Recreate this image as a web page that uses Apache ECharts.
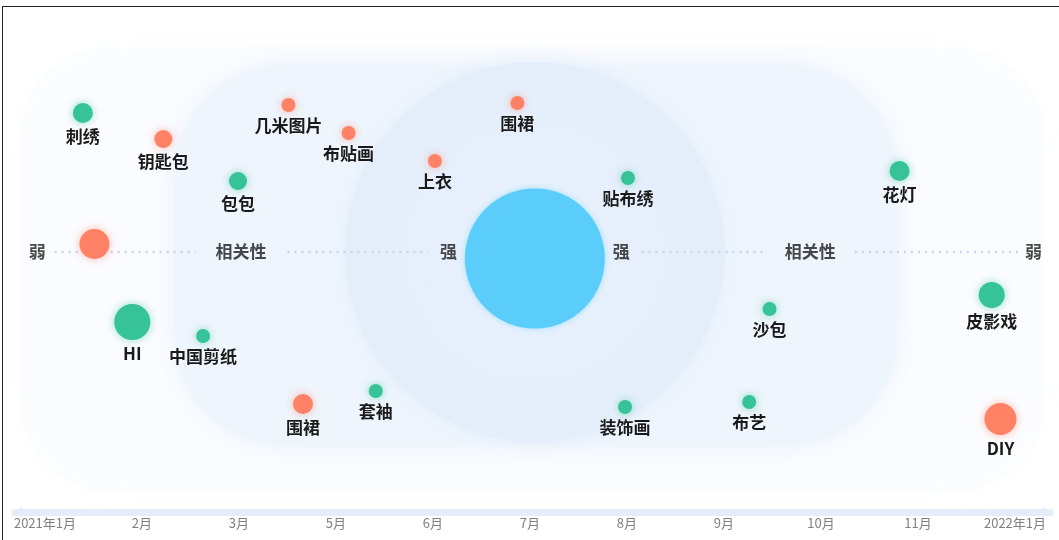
<!DOCTYPE html>
<html>
<head>
<meta charset="utf-8">
<script src="https://cdn.jsdelivr.net/npm/echarts@6/dist/echarts.min.js"></script>
<style>
  html,body{margin:0;padding:0;background:#fff;}
  #frame{position:absolute;left:2px;top:6px;width:1057px;height:534px;border-left:1.5px solid #222;border-top:1.5px solid #222;box-sizing:border-box;}
  #chart{position:absolute;left:0;top:0;width:1059px;height:540px;}
</style>
</head>
<body>
<div id="chart"></div>
<div id="frame"></div>
<script>
// ---- data ----
const monthLabels = ['2021年1月','2月','3月','5月','6月','7月','8月','9月','10月','11月','2022年1月'];
const itemNames  = ['刺绣','钥匙包','几米图片','布贴画','包包','上衣','围裙','贴布绣','花灯','','HI','中国剪纸','围裙','套袖','装饰画','布艺','沙包','皮影戏','DIY'];
const itemGroups = ['g','o','o','o','g','o','o','g','g','o','g','g','o','g','g','g','g','g','o'];
const itemX      = [0.39,1.22,2.51,3.13,1.99,4.02,4.87,6.01,8.81,0.51,0.90,1.63,2.66,3.41,5.98,7.26,7.47,9.76,9.85];
const itemY      = [79.8,74.6,81.4,75.8,66.2,70.2,81.8,66.8,68.2,53.6,38.0,35.2,21.6,24.2,21.0,22.0,40.6,43.4,18.6];
const itemValue  = [10,9,7,7,9,7,7,7,10,15,18,7,10,7,7,7,7,13,16];
const centerX = 5.05, centerY = 50.7, centerValue = 70;
const guideY = 52;
const guideLabels = ['弱','相关性','强','强','相关性','弱'];
const guideLabelX = [-0.08, 2.02, 4.16, 5.94, 7.89, 10.19];
const guideSegments = [[0.10,1.55],[2.50,3.95],[6.15,7.45],[8.35,10.05]];

// ---- build ----
const GREEN = '#36c397', ORANGE = '#ff8266', BLUE = '#5bcdfa';
function items(g){
  const out=[];
  for(let i=0;i<itemNames.length;i++){
    if(itemGroups[i]===g) out.push({name:itemNames[i], value:[itemX[i], itemY[i], itemValue[i]]});
  }
  return out;
}
const lineData=[];
guideSegments.forEach((s,i)=>{ if(i) lineData.push('-'); lineData.push([s[0],guideY],[s[1],guideY]); });

const FONT = '"Noto Sans CJK SC", sans-serif';
const labelStyle = {show:true, position:'bottom', distance:5, formatter:'{b}', color:'#1a1a1a', fontSize:17,
  fontWeight:'bold', fontFamily:FONT};

const chart = echarts.init(document.getElementById('chart'));
const option = {
  backgroundColor:'#fff',
  animation:false,
  grid:{left:15, right:9, top:12, bottom:28},
  xAxis:{type:'value', min:-0.309, max:10.361, splitLine:{show:false}, axisTick:{show:false},
    axisLine:{show:true, symbol:['arrow','arrow'], symbolSize:[9,8], lineStyle:{color:'#e3eefa', width:7}},
    axisLabel:{customValues:[0,1,2,3,4,5,6,7,8,9,10], formatter:v=>monthLabels[Math.round(v)], color:'#808080', fontSize:13, margin:5,
      fontFamily:FONT}},
  yAxis:{type:'value', min:0, max:100, show:false},
  series:[
    {type:'line', data:lineData, symbol:'none', connectNulls:false, silent:true, z:1,
      lineStyle:{type:[2,5], color:'#c5d5ea', width:2.5}},
    {type:'scatter', symbolSize:1, itemStyle:{color:'rgba(0,0,0,0)'}, silent:true, z:3,
      data:guideLabels.map((n,i)=>({name:n, value:[guideLabelX[i], guideY]})),
      label:{show:true, position:'inside', formatter:'{b}', color:'#1a1a1a', fontSize:17, fontWeight:'bold', fontFamily:FONT}},
    {type:'scatter', z:2, data:[{name:'', value:[centerX, centerY, centerValue]}], symbolSize:d=>d[2]*2,
      itemStyle:{color:BLUE, opacity:1, shadowBlur:6, shadowColor:'rgba(92,205,250,0.5)'}},
    {type:'scatter', z:4, data:items('g'), symbolSize:d=>d[2]*2,
      itemStyle:{color:GREEN, opacity:1, shadowBlur:8, shadowColor:'rgba(54,195,151,0.55)'}, label:labelStyle},
    {type:'scatter', z:4, data:items('o'), symbolSize:d=>d[2]*2,
      itemStyle:{color:ORANGE, opacity:1, shadowBlur:8, shadowColor:'rgba(255,130,102,0.55)'}, label:labelStyle}
  ]
};
chart.setOption(option);

// background halo shapes around the centre of relevance
const c = chart.convertToPixel({gridIndex:0}, [centerX, guideY]);
chart.setOption({graphic:[
  {type:'rect', z:-10, silent:true, shape:{x:c[0]-515, y:c[1]-205, width:1025, height:445, r:90},
    style:{fill:'rgba(245,249,254,0.35)', shadowBlur:40, shadowColor:'rgba(245,249,254,0.6)'}},
  {type:'rect', z:-9, silent:true, shape:{x:c[0]-360, y:c[1]-187, width:722, height:380, r:110},
    style:{fill:'#eef5fd', shadowBlur:25, shadowColor:'rgba(232,242,252,0.9)'}},
  {type:'circle', z:-8, silent:true, shape:{cx:c[0], cy:c[1], r:190},
    style:{fill:new echarts.graphic.RadialGradient(0.5,0.5,0.5,[{offset:0,color:'#e8f1fc'},{offset:1,color:'#e4eefb'}]),
      shadowBlur:20, shadowColor:'rgba(226,237,251,0.9)'}}
]});
</script>
</body>
</html>
